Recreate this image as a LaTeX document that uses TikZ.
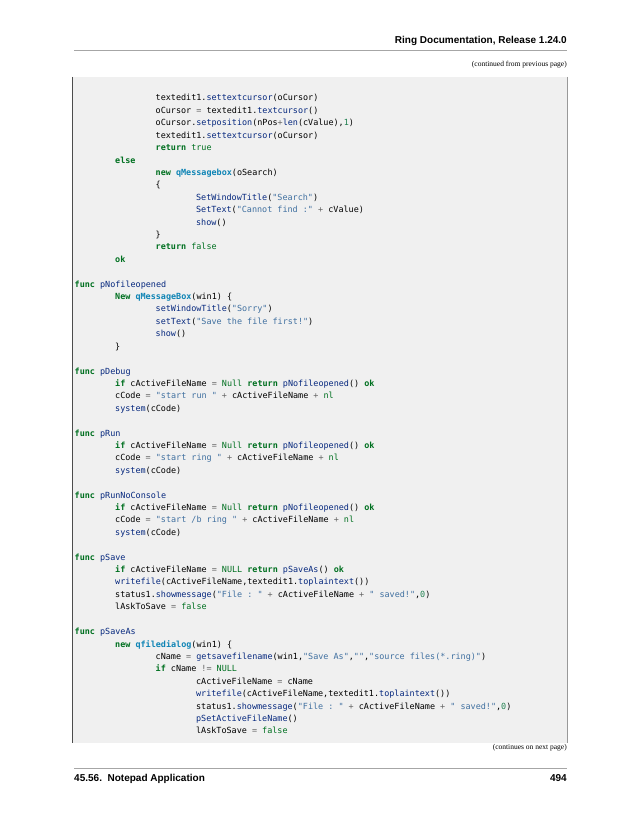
\documentclass[tikz,border=0pt]{standalone}
\usepackage{fontspec}
\setmainfont{Liberation Serif}
\setsansfont{Liberation Sans}
\setmonofont{DejaVu Sans Mono}
\definecolor{ckw}{HTML}{007020}
\definecolor{cfn}{HTML}{06287E}
\definecolor{ccl}{HTML}{0E84B5}
\definecolor{cst}{HTML}{4070A0}
\definecolor{cnm}{HTML}{208050}
\definecolor{cop}{HTML}{666666}
\definecolor{cbg}{HTML}{F0F0F0}
\newcommand{\rkw}[1]{\textcolor{ckw}{\textbf{#1}}}
\newcommand{\rfn}[1]{\textcolor{cfn}{#1}}
\newcommand{\rcl}[1]{\textcolor{ccl}{\textbf{#1}}}
\newcommand{\rst}[1]{\textcolor{cst}{#1}}
\newcommand{\rnm}[1]{\textcolor{cnm}{#1}}
\newcommand{\rop}[1]{\textcolor{cop}{#1}}
\newcommand{\rlt}[1]{\textcolor{ckw}{#1}}
\begin{document}
\begin{tikzpicture}[x=0.9592pt,y=-0.9592pt,
  code/.style={anchor=base west,inner sep=0pt,font=\fontsize{8.1}{9}\ttfamily},
  hdr/.style={inner sep=0pt,font=\fontsize{9.6}{11}\sffamily\bfseries},
  note/.style={inner sep=0pt,anchor=base east,font=\fontsize{7.2}{8}\rmfamily}]
\useasboundingbox (0,0) rectangle (638,825);
\fill[white] (0,0) rectangle (638,825);
% header
\node[hdr,anchor=base east] (head) at (567,44) {Ring Documentation, Release 1.24.0};
\draw[gray!70,line width=0.7pt] (74,50) -- (567,50);
\node[note] (cont) at (567,67) {(continued from previous page)};
% code box
\fill[cbg] (72,77) rectangle (567,743);
\draw[gray!80,line width=0.5pt] (567,77) -- (567,743);
\draw[gray!60!black,line width=1pt] (72.5,77) -- (72.5,743);
\def\lh{12.41}
\def\xo{74.5}
\def\cw{5.06}
\newcommand{\cl}[3]{\node[code] (L#1) at ({\xo+#2*\cw},{101+(#1-1)*\lh}) {#3};}
\cl{1}{16}{textedit1.\rfn{settextcursor}(oCursor)}
\cl{2}{16}{oCursor \rop{=} textedit1.\rfn{textcursor}()}
\cl{3}{16}{oCursor.\rfn{setposition}(nPos\rop{+}\rfn{len}(cValue),\rnm{1})}
\cl{4}{16}{textedit1.\rfn{settextcursor}(oCursor)}
\cl{5}{16}{\rkw{return} \rlt{true}}
\cl{6}{8}{\rkw{else}}
\cl{7}{16}{\rkw{new} \rcl{qMessagebox}(oSearch)}
\cl{8}{16}{\{}
\cl{9}{24}{\rfn{SetWindowTitle}(\rst{"Search"})}
\cl{10}{24}{\rfn{SetText}(\rst{"Cannot find :"} \rop{+} cValue)}
\cl{11}{24}{\rfn{show}()}
\cl{12}{16}{\}}
\cl{13}{16}{\rkw{return} \rlt{false}}
\cl{14}{8}{\rkw{ok}}
\cl{16}{0}{\rkw{func} \rfn{pNofileopened}}
\cl{17}{8}{\rkw{New} \rcl{qMessageBox}(win1) \{}
\cl{18}{16}{\rfn{setWindowTitle}(\rst{"Sorry"})}
\cl{19}{16}{\rfn{setText}(\rst{"Save the file first!"})}
\cl{20}{16}{\rfn{show}()}
\cl{21}{8}{\}}
\cl{23}{0}{\rkw{func} \rfn{pDebug}}
\cl{24}{8}{\rkw{if} cActiveFileName \rop{=} \rlt{Null} \rkw{return} \rfn{pNofileopened}() \rkw{ok}}
\cl{25}{8}{cCode \rop{=} \rst{"start run "} \rop{+} cActiveFileName \rop{+} \rlt{nl}}
\cl{26}{8}{\rfn{system}(cCode)}
\cl{28}{0}{\rkw{func} \rfn{pRun}}
\cl{29}{8}{\rkw{if} cActiveFileName \rop{=} \rlt{Null} \rkw{return} \rfn{pNofileopened}() \rkw{ok}}
\cl{30}{8}{cCode \rop{=} \rst{"start ring "} \rop{+} cActiveFileName \rop{+} \rlt{nl}}
\cl{31}{8}{\rfn{system}(cCode)}
\cl{33}{0}{\rkw{func} \rfn{pRunNoConsole}}
\cl{34}{8}{\rkw{if} cActiveFileName \rop{=} \rlt{Null} \rkw{return} \rfn{pNofileopened}() \rkw{ok}}
\cl{35}{8}{cCode \rop{=} \rst{"start /b ring "} \rop{+} cActiveFileName \rop{+} \rlt{nl}}
\cl{36}{8}{\rfn{system}(cCode)}
\cl{38}{0}{\rkw{func} \rfn{pSave}}
\cl{39}{8}{\rkw{if} cActiveFileName \rop{=} \rlt{NULL} \rkw{return} \rfn{pSaveAs}() \rkw{ok}}
\cl{40}{8}{\rfn{writefile}(cActiveFileName,textedit1.\rfn{toplaintext}())}
\cl{41}{8}{status1.\rfn{showmessage}(\rst{"File : "} \rop{+} cActiveFileName \rop{+} \rst{" saved!"},\rnm{0})}
\cl{42}{8}{lAskToSave \rop{=} \rlt{false}}
\cl{44}{0}{\rkw{func} \rfn{pSaveAs}}
\cl{45}{8}{\rkw{new} \rcl{qfiledialog}(win1) \{}
\cl{46}{16}{cName \rop{=} \rfn{getsavefilename}(win1,\rst{"Save As"},\rst{""},\rst{"source files(*.ring)"})}
\cl{47}{16}{\rkw{if} cName \rop{!=} \rlt{NULL}}
\cl{48}{24}{cActiveFileName \rop{=} cName}
\cl{49}{24}{\rfn{writefile}(cActiveFileName,textedit1.\rfn{toplaintext}())}
\cl{50}{24}{status1.\rfn{showmessage}(\rst{"File : "} \rop{+} cActiveFileName \rop{+} \rst{" saved!"},\rnm{0})}
\cl{51}{24}{\rfn{pSetActiveFileName}()}
\cl{52}{24}{lAskToSave \rop{=} \rlt{false}}
% footer
\node[note] (next) at (567,749) {(continues on next page)};
\draw[gray!70,line width=0.7pt] (74,768) -- (567,768);
\node[hdr,anchor=base west] (foot) at (74,781) {45.56.\ \ Notepad Application};
\node[hdr,anchor=base east] (page) at (567,781) {494};
\end{tikzpicture}
\end{document}
